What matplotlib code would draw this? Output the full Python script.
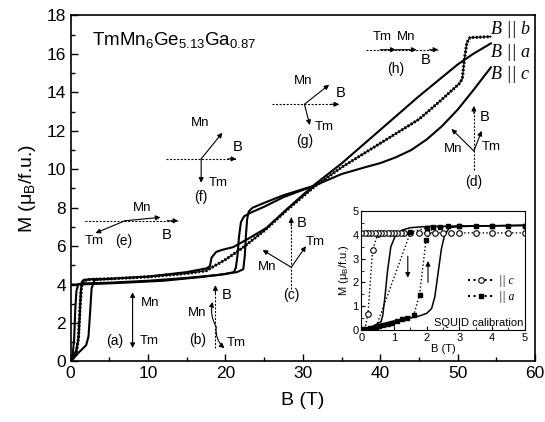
import matplotlib
matplotlib.use("Agg")
import matplotlib.pyplot as plt
from matplotlib.lines import Line2D
from matplotlib.ticker import MultipleLocator

plt.rcParams["font.family"] = ["Liberation Sans", "DejaVu Sans"]
plt.rcParams["mathtext.fontset"] = "custom"
plt.rcParams["mathtext.rm"] = "Liberation Sans"
plt.rcParams["mathtext.it"] = "Liberation Sans:italic"

# ---- main panel: pulsed-field magnetization, M (muB/f.u.) vs B (T)
a_up_B = [0, 1.0, 2.0, 2.3, 2.5, 2.7, 3.1, 5, 10, 15, 17.6, 18.0, 18.2, 18.8, 19.5, 21, 23, 25.3, 28, 31.5, 35, 40, 45, 50, 52, 54.3]
a_up_M = [0, 0.45, 0.85, 1.3, 2.5, 3.8, 4.25, 4.3, 4.42, 4.65, 4.85, 4.97, 5.4, 5.7, 5.8, 5.95, 6.4, 6.95, 7.95, 9.2, 10.3, 12.05, 13.8, 15.45, 16.0, 16.55]
a_dn_B = [5.0, 3.0, 1.7, 1.45, 1.3, 1.15, 1.0, 0.8, 0.5, 0.2, 0]
a_dn_M = [4.3, 4.28, 4.25, 4.15, 3.6, 2.2, 1.2, 0.7, 0.35, 0.12, 0]

b_B = [0, 0.7, 1.0, 1.2, 1.4, 1.7, 2.5, 5, 10, 15, 17.5, 20, 22, 25, 28, 31.5, 35, 40, 45, 47.6, 50.2, 50.6, 50.9, 51.2, 51.6, 54.3]
b_M = [0, 0.4, 1.2, 2.8, 3.9, 4.2, 4.27, 4.3, 4.4, 4.58, 4.72, 5.3, 5.85, 6.8, 7.9, 9.1, 10.1, 11.35, 12.6, 13.5, 14.45, 14.7, 15.8, 16.6, 16.85, 16.9]

c_up_B = [0, 0.25, 0.45, 0.6, 0.75, 1.0, 1.5, 5, 10, 15, 19, 21.5, 22.3, 22.5, 22.65, 22.8, 23.0, 23.5, 25, 27.5, 29.5, 31.5,
          35, 38, 40, 42, 44, 46, 48, 50, 52, 54.3]
c_up_M = [0, 0.3, 1.2, 2.8, 3.7, 4.02, 4.06, 4.1, 4.2, 4.35, 4.5, 4.65, 4.8, 5.5, 6.6, 7.4, 7.8, 8.0, 8.25, 8.65, 8.9, 9.15,
          9.75, 10.1, 10.32, 10.62, 11.0, 11.55, 12.25, 13.1, 14.1, 15.3]
c_dn_B = [31.5, 27.5, 25, 23.3, 22.4, 22.0, 21.75, 21.55, 21.35, 21.1, 20, 17, 12, 7, 3, 0]
c_dn_M = [9.15, 8.55, 8.05, 7.75, 7.55, 7.25, 6.5, 5.5, 4.9, 4.65, 4.55, 4.4, 4.2, 4.1, 4.03, 4.0]

# ---- inset: low-field part, pulsed (solid) and SQUID calibration (symbols)
ins_up_B = [0, 0.5, 1.0, 1.5, 1.8, 2.0, 2.15, 2.25, 2.35, 2.45, 2.55, 2.7, 3.0, 5.0]
ins_up_M = [0, 0.2, 0.38, 0.5, 0.6, 0.7, 0.9, 1.4, 2.4, 3.4, 4.0, 4.3, 4.35, 4.4]
ins_dn_B = [5.0, 2.0, 1.5, 1.25, 1.05, 0.9, 0.8, 0.72, 0.65, 0.6, 0.3, 0]
ins_dn_M = [4.4, 4.35, 4.3, 4.2, 4.0, 3.5, 2.5, 1.4, 0.6, 0.35, 0.12, 0]

sq_c_up_B = [0.1, 0.2, 0.34, 0.5]
sq_c_up_M = [0.02, 0.68, 3.35, 4.05]
sq_c_dn_B = [5.0, 4.5, 4.0, 3.5, 3.0, 2.75, 2.5, 2.25, 2.0, 1.75, 1.5, 1.3, 1.2, 1.1, 1.0, 0.9, 0.8, 0.7, 0.6, 0.5, 0.4, 0.3, 0.2, 0.1, 0.0]
sq_c_dn_M = [4.08, 4.08, 4.08, 4.08, 4.08, 4.08, 4.08, 4.08, 4.08, 4.08, 4.08, 4.08, 4.08, 4.08, 4.08, 4.08, 4.08, 4.07, 4.07, 4.07, 4.07, 4.06, 4.06, 4.06, 4.06]

sq_a_up_B = [0.05, 0.15, 0.25, 0.35, 0.45, 0.55, 0.65, 0.8, 0.95, 1.1, 1.25, 1.4, 1.6, 1.78, 1.98, 2.2, 2.4, 2.66, 3.0, 3.5, 4.0, 4.5, 5.0]
sq_a_up_M = [0.03, 0.05, 0.08, 0.1, 0.13, 0.16, 0.2, 0.25, 0.3, 0.38, 0.45, 0.52, 0.62, 1.48, 3.78, 4.32, 4.34, 4.35, 4.37, 4.38, 4.38, 4.38, 4.38]
sq_a_dn_B = [5.0, 4.0, 3.0, 2.0, 1.5, 0.45]
sq_a_dn_M = [4.38, 4.38, 4.35, 4.3, 4.1, 0.14]


def arrow(ax, start, end, rad=0.0, lw=0.8):
    ax.annotate("", xy=end, xytext=start,
                arrowprops=dict(arrowstyle="-|>", lw=lw, color="k", mutation_scale=7,
                                shrinkA=0, shrinkB=0, connectionstyle=f"arc3,rad={rad}"))


def field(ax, start, end):
    # dotted field direction with a solid head
    ax.plot([start[0], end[0]], [start[1], end[1]], ls=(0, (1.8, 1.4)), lw=0.8, color="k")
    hx = end[0] - 0.12 * (end[0] - start[0])
    hy = end[1] - 0.12 * (end[1] - start[1])
    arrow(ax, (hx, hy), end)


def lbl(ax, x, y, s, size=9.5):
    ax.text(x, y, s, fontsize=size, ha="center", va="center")


fig = plt.figure(figsize=(5.45, 4.22), dpi=100)
ax = fig.add_axes([0.1297, 0.1434, 0.852, 0.8199])

lw = 1.5
ax.plot(a_up_B, a_up_M, color="k", lw=lw)
ax.plot(a_dn_B, a_dn_M, color="k", lw=lw)
ax.plot(c_up_B, c_up_M, color="k", lw=lw)
ax.plot(c_dn_B, c_dn_M, color="k", lw=lw)
ax.plot(b_B, b_M, color="k", lw=0.9)
ax.plot(b_B, b_M, color="k", lw=2.2, ls=(0, (0.6, 0.6)))

ax.set_xlim(0, 60)
ax.set_ylim(0, 18)
ax.xaxis.set_major_locator(MultipleLocator(10))
ax.xaxis.set_minor_locator(MultipleLocator(5))
ax.yaxis.set_major_locator(MultipleLocator(2))
ax.yaxis.set_minor_locator(MultipleLocator(1))
ax.tick_params(which="both", direction="in", top=False, right=False, labelsize=12.5, width=1.0)
ax.tick_params(which="major", length=5)
ax.tick_params(which="minor", length=3)
for sp in ax.spines.values():
    sp.set_linewidth(1.2)
ax.set_xlabel("B (T)", fontsize=14, labelpad=8)
ax.set_ylabel(r"M (μ$_\mathrm{B}$/f.u.)", fontsize=14, labelpad=6)

ax.text(2.7, 16.7, r"TmMn$_6$Ge$_{5.13}$Ga$_{0.87}$", fontsize=13.5, ha="left", va="center")
for y, s in [(17.27, "B || b"), (16.05, "B || a"), (14.93, "B || c")]:
    ax.text(54.3, y, s, fontsize=13, family="Liberation Serif", style="italic", ha="left", va="center")

# spin arrangement sketches
# (a)
arrow(ax, (8.0, 2.2), (8.0, 3.6))
arrow(ax, (8.0, 2.2), (8.0, 0.7))
lbl(ax, 10.3, 3.05, "Mn"); lbl(ax, 10.2, 1.06, "Tm"); lbl(ax, 5.7, 1.08, "(a)", 10)
# (b)
field(ax, (18.7, 0.7), (18.7, 3.97))
arrow(ax, (18.8, 1.8), (18.35, 3.1), rad=-0.2)
arrow(ax, (18.8, 1.8), (19.86, 0.69), rad=0.25)
lbl(ax, 20.1, 3.45, "B", 10.5); lbl(ax, 16.3, 2.5, "Mn"); lbl(ax, 21.4, 0.98, "Tm"); lbl(ax, 16.4, 1.1, "(b)", 10)
# (c)
field(ax, (28.5, 3.75), (28.5, 7.5))
arrow(ax, (28.5, 4.9), (24.8, 5.8))
arrow(ax, (28.5, 4.9), (30.4, 6.0))
lbl(ax, 29.9, 7.2, "B", 10.5); lbl(ax, 31.6, 6.2, "Tm"); lbl(ax, 25.4, 4.9, "Mn"); lbl(ax, 28.5, 3.45, "(c)", 10)
# (d)
field(ax, (52.1, 9.95), (52.1, 13.3))
arrow(ax, (52.1, 10.95), (49.2, 12.1))
arrow(ax, (52.1, 10.95), (53.1, 12.0))
lbl(ax, 53.5, 12.7, "B", 10.5); lbl(ax, 49.4, 11.08, "Mn"); lbl(ax, 54.3, 11.16, "Tm"); lbl(ax, 52.1, 9.35, "(d)", 10)
# (e)
field(ax, (1.9, 7.32), (13.9, 7.32))
arrow(ax, (7.0, 7.32), (11.6, 7.5))
arrow(ax, (7.0, 7.32), (3.2, 6.68))
lbl(ax, 9.2, 8.0, "Mn"); lbl(ax, 3.05, 6.28, "Tm"); lbl(ax, 6.85, 6.25, "(e)", 10); lbl(ax, 12.4, 6.6, "B", 10.5)
# (f)
field(ax, (12.3, 10.54), (21.4, 10.54))
arrow(ax, (16.86, 10.54), (19.6, 11.9))
arrow(ax, (16.86, 10.54), (16.86, 9.3))
lbl(ax, 16.7, 12.4, "Mn"); lbl(ax, 21.6, 11.16, "B", 10.5); lbl(ax, 19.1, 9.29, "Tm"); lbl(ax, 16.86, 8.56, "(f)", 10)
# (g)
field(ax, (26.0, 13.38), (34.7, 13.38))
arrow(ax, (30.2, 13.38), (33.4, 14.4))
arrow(ax, (30.2, 13.38), (30.9, 12.3))
lbl(ax, 30.0, 14.6, "Mn"); lbl(ax, 34.9, 13.95, "B", 10.5); lbl(ax, 32.8, 12.2, "Tm"); lbl(ax, 30.2, 11.45, "(g)", 10)
# (h)
field(ax, (38.1, 16.22), (47.5, 16.22))
arrow(ax, (40.0, 16.22), (42.0, 16.22))
arrow(ax, (42.0, 16.22), (44.7, 16.22))
lbl(ax, 40.2, 16.87, "Tm"); lbl(ax, 43.4, 16.87, "Mn"); lbl(ax, 45.8, 15.66, "B", 10.5); lbl(ax, 42.0, 15.23, "(h)", 10)

# ---- inset
ins = fig.add_axes([0.6633, 0.218, 0.2991, 0.282])
ins.plot(ins_up_B, ins_up_M, color="k", lw=1.1)
ins.plot(ins_dn_B, ins_dn_M, color="k", lw=1.1)
ins.plot(sq_c_up_B, sq_c_up_M, ls=":", color="k", lw=1.0, marker="o", ms=4, mfc="white", mew=0.8)
ins.plot(sq_c_dn_B, sq_c_dn_M, ls=":", color="k", lw=1.0, marker="o", ms=4, mfc="white", mew=0.8)
ins.plot(sq_a_up_B, sq_a_up_M, ls=":", color="k", lw=1.0, marker="s", ms=3.5)
ins.plot(sq_a_dn_B, sq_a_dn_M, ls=":", color="k", lw=1.0, marker="s", ms=3.5, markevery=[0, 1, 2, 3, 4])
arrow(ins, (1.42, 3.1), (1.42, 2.2))
arrow(ins, (2.04, 2.0), (2.04, 2.9))
ins.set_xlim(0, 5)
ins.set_ylim(0, 5)
ins.xaxis.set_major_locator(MultipleLocator(1))
ins.xaxis.set_minor_locator(MultipleLocator(0.5))
ins.yaxis.set_major_locator(MultipleLocator(1))
ins.yaxis.set_minor_locator(MultipleLocator(0.5))
ins.tick_params(which="both", direction="in", top=False, right=False, labelsize=8, pad=2)
ins.tick_params(which="major", length=3)
ins.tick_params(which="minor", length=2)
ins.set_xlabel("B (T)", fontsize=8, labelpad=1)
ins.set_ylabel(r"M (μ$_\mathrm{B}$/f.u.)", fontsize=8, labelpad=1)
handles = [Line2D([], [], ls=":", color="k", marker="o", mfc="white", ms=4, mew=0.8),
           Line2D([], [], ls=":", color="k", marker="s", ms=3.5)]
leg = ins.legend(handles, ["|| c", "|| a"], loc="lower right", bbox_to_anchor=(1.0, 0.14),
                 frameon=False, handlelength=2.2, handletextpad=0.4, labelspacing=0.3,
                 prop=dict(family="Liberation Serif", style="italic", size=8.5))
ins.text(4.97, 0.08, "SQUID calibration", fontsize=8, ha="right", va="bottom")

fig.savefig("out.png", dpi=100)
